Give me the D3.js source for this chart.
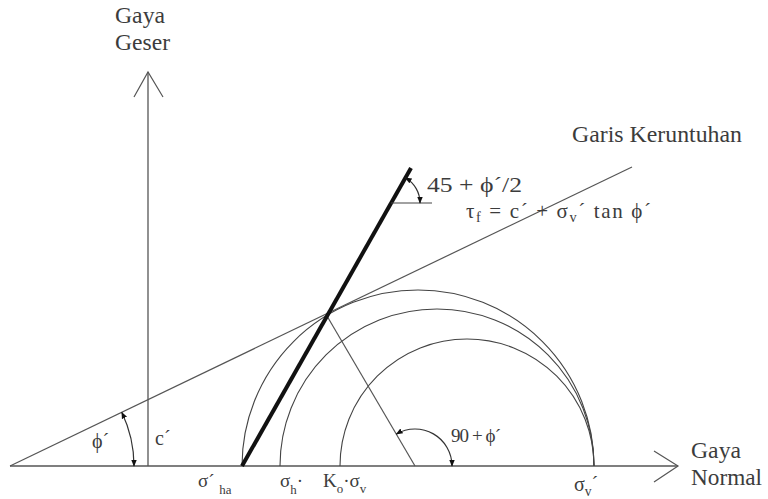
<!DOCTYPE html>
<html><head><meta charset="utf-8">
<script src="https://cdn.jsdelivr.net/npm/d3@7"></script>
<style>body{margin:0;background:#fff}svg{display:block}</style>
</head><body><svg id="c" width="768" height="499"></svg>
<script>
// ---- data (stress units; origin at the shear axis) ----
const axisNormal = [-138, 530];          // extent of normal-stress axis
const axisShear = [0, 394];              // extent of shear axis
const circleNames = ["σ´ha", "σh´", "K0·σv"];
const circleLeft = [94, 132, 192];       // σ'ha, σh', K0·σv'
const circleRight = [446, 446, 446];     // σv'
const failureLine = [[-138, 0], [484, 299]];   // τf = c' + σ tan φ'
const cohesion = 66;
const activePlane = [[94, 0], [263, 298]];     // 45 + φ'/2 plane
const radiusLine = [[267, 0], [179, 150]];     // radius to tangent point
const anglePhi = {center: [-138, 0], r: 124};
const angle90 = {center: [267, 0], r: 37};
const angle45 = {center: [243, 263], r: 29};

const FONT = "'Liberation Serif','Times New Roman',Times,'DejaVu Serif',serif";
const svg = d3.select("#c");
const x = d3.scaleLinear().domain(axisNormal).range([10, 678]);
const y = d3.scaleLinear().domain(axisShear).range([466, 72]);

const defs = svg.append("defs");
defs.append("marker").attr("id","ah").attr("viewBox","0 0 10 10").attr("refX",9).attr("refY",5)
  .attr("markerWidth",7).attr("markerHeight",7).attr("markerUnits","userSpaceOnUse")
  .attr("orient","auto-start-reverse")
  .append("path").attr("d","M0,1 L10,5 L0,9 z").attr("fill","#111");

const line = d3.line().x(d => x(d[0])).y(d => y(d[1]));

// axes
svg.append("line").attr("x1", x(axisNormal[0])).attr("x2", x(axisNormal[1])).attr("y1", y(0)).attr("y2", y(0))
  .attr("stroke", "#555").attr("stroke-width", 1.3);
svg.append("line").attr("x1", x(0)).attr("x2", x(0)).attr("y1", y(0)).attr("y2", y(axisShear[1]))
  .attr("stroke", "#555").attr("stroke-width", 1.3);
// arrowheads (open)
svg.append("path").attr("d", `M${x(axisNormal[1])-24},${y(0)-15} L${x(axisNormal[1])},${y(0)} L${x(axisNormal[1])-24},${y(0)+16}`)
  .attr("fill","none").attr("stroke","#555").attr("stroke-width",1.2);
svg.append("path").attr("d", `M${x(0)-14},${y(axisShear[1])+25} L${x(0)},${y(axisShear[1])} L${x(0)+15},${y(axisShear[1])+25}`)
  .attr("fill","none").attr("stroke","#555").attr("stroke-width",1.2);

// Mohr half circles
circleLeft.forEach((l, i) => {
  const x0 = x(l), x1 = x(circleRight[i]);
  const r = (x1 - x0) / 2;
  svg.append("path").attr("d", `M${x0},${y(0)} A${r},${r} 0 0 1 ${x1},${y(0)}`)
    .attr("fill","none").attr("stroke","#444").attr("stroke-width",1.1);
});

// failure line
svg.append("path").attr("d", line(failureLine)).attr("fill","none").attr("stroke","#555").attr("stroke-width",1.2);
// radius line
svg.append("path").attr("d", line(radiusLine)).attr("fill","none").attr("stroke","#555").attr("stroke-width",1.2);
// active plane (thick)
svg.append("path").attr("d", line(activePlane)).attr("fill","none").attr("stroke","#111").attr("stroke-width",4);

// horizontal reference at top of plane
svg.append("line").attr("x1", x(angle45.center[0])).attr("x2", x(angle45.center[0]) + 41)
  .attr("y1", y(angle45.center[1])).attr("y2", y(angle45.center[1])).attr("stroke","#444").attr("stroke-width",1.2);

function angleArc(a, p0, p1) {
  const cx = x(a.center[0]), cy = y(a.center[1]);
  const t = Math.atan2(-(y(p1[1]) - y(p0[1])), x(p1[0]) - x(p0[0]));
  const sx = cx + a.r, sy = cy;
  const ex = cx + a.r * Math.cos(t), ey = cy - a.r * Math.sin(t);
  svg.append("path").attr("d", `M${sx},${sy} A${a.r},${a.r} 0 0 0 ${ex},${ey}`)
    .attr("fill","none").attr("stroke","#333").attr("stroke-width",1.2)
    .attr("marker-start","url(#ah)").attr("marker-end","url(#ah)");
}
angleArc(anglePhi, failureLine[0], failureLine[1]);
angleArc(angle90, radiusLine[0], radiusLine[1]);
angleArc(angle45, activePlane[0], activePlane[1]);

// texts
function label(tx, ty, parts, size, len, adj) {
  const t = svg.append("text").attr("x", tx).attr("y", ty).attr("font-size", size)
    .attr("font-family", FONT).attr("fill", "#3c3c3c");
  if (len) t.attr("textLength", len).attr("lengthAdjust", adj || "spacingAndGlyphs");
  parts.forEach(p => {
    const s = t.append("tspan").text(p.t);
    if (p.sub) s.attr("font-size", size * 0.68).attr("dy", p.sub);
    if (p.up) s.attr("dy", p.up);
  });
  return t;
}
label(115, 23, [{t:"Gaya"}], 23, 50);
label(115, 50, [{t:"Geser"}], 23, 55);
label(691, 458, [{t:"Gaya"}], 23, 50);
label(691, 485, [{t:"Normal"}], 23, 71);
label(572, 142, [{t:"Garis Keruntuhan"}], 23, 170);
label(427, 192, [{t:"45 + ϕ´/2"}], 21, 95);
label(466, 218, [{t:"τ"}, {t:"f", sub:4}, {t:" = c´ + σ", up:-4}, {t:"v", sub:4}, {t:"´ tan ϕ´", up:-4}], 21, 185, "spacing");
label(x(anglePhi.center[0]) + 82, 448, [{t:"ϕ´"}], 20);
label(x(0) + 7, 445, [{t:"c´"}], 20);
label(451, 442, [{t:"90 + ϕ´"}], 19, 50, "spacing");
label(198, 487, [{t:"σ´ "}, {t:"ha", sub:7}], 19);
label(280, 487, [{t:"σ"}, {t:"h", sub:7}, {t:"·", up:-7}], 19);
label(323, 487, [{t:"K"}, {t:"o", sub:6}, {t:"·σ", up:-6}, {t:"v", sub:6}], 19);
label(574, 491, [{t:"σ"}, {t:"v", sub:5}, {t:"´", up:-5}], 20);
</script></body></html>
